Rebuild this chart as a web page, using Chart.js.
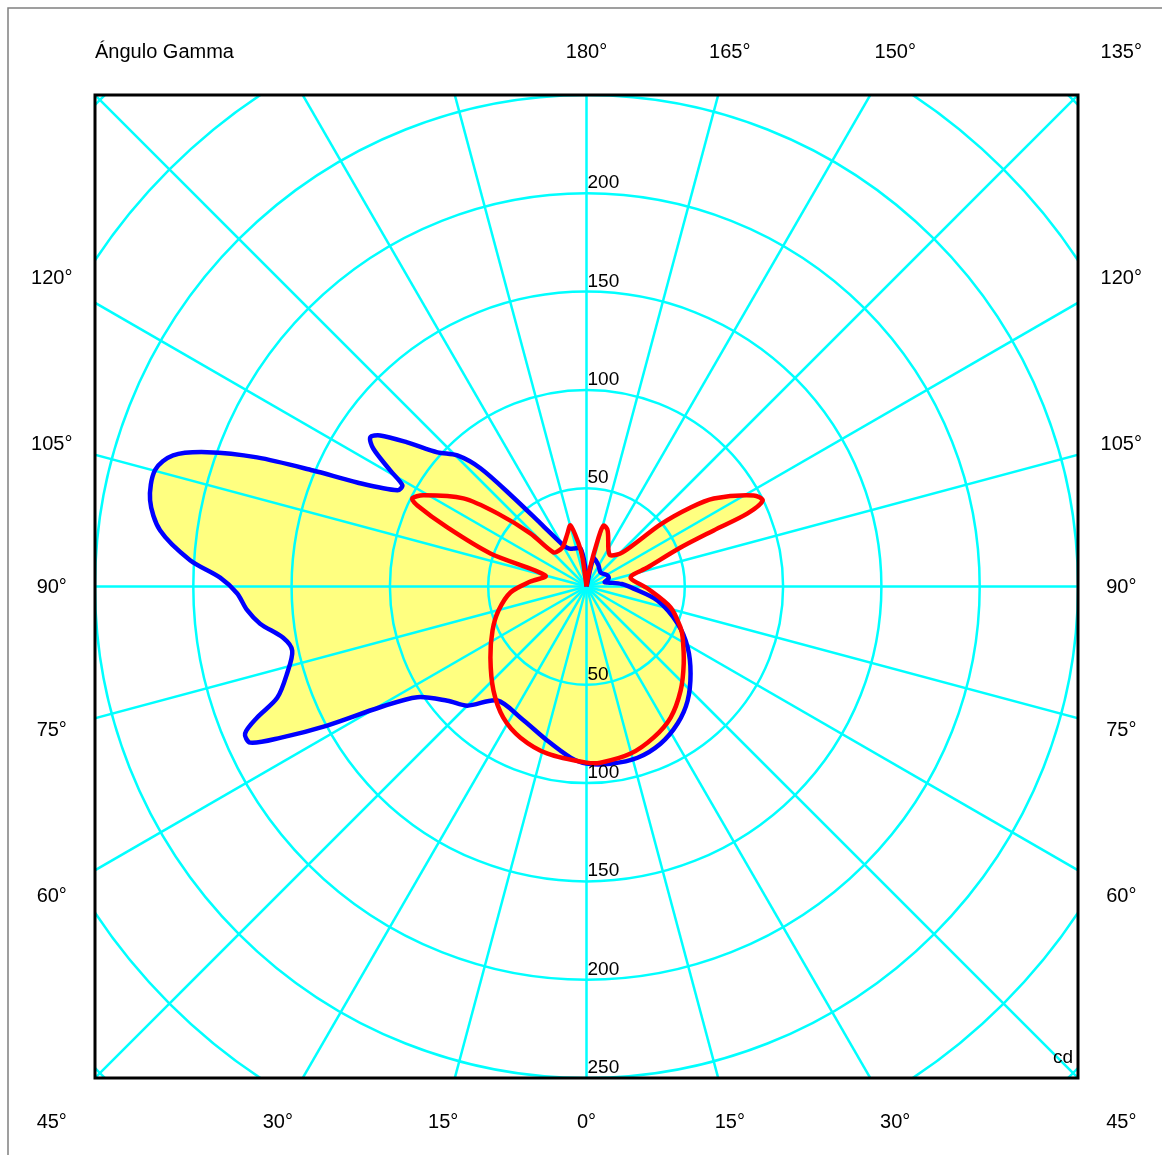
<!DOCTYPE html>
<html>
<head>
<meta charset="utf-8">
<script src="https://cdn.jsdelivr.net/npm/chart.js@4.4.1/dist/chart.umd.min.js"></script>
<style>
    body { margin: 0; background: #fff; }
    .chart-container { position: relative; width: 1162px; height: 1155px; }
</style>
</head>
<body>
<div class="chart-container">
    <canvas id="polarChart"></canvas>
</div>

<script>
    // gamma angles: negative = left half of the diagram, positive = right half (0 = down, 180 = up)
    const blueGamma = [-180, -176, -171, -161, -154.7, -150.7, -143.9, -140.6, -138.1, -135.4, -132, -128.8, -126.2, -124.6, -122.9, -120.6, -118.8, -117, -114.4, -113, -111.4, -109.5, -107.6, -105.1, -101.2, -97.5, -93.8, -91.4, -88.9, -86, -83.5, -80.4, -77.7, -73.8, -70.2, -68.3, -66.7, -65.1, -63.7, -61.8, -59.7, -56.8, -50.6, -45, -38, -26.7, -14.2, -5.3, 0, 7.7, 16.6, 25.2, 33.6, 41.5, 50.1, 58.9, 67.9, 78.8, 87.4, 94, 100.8, 104, 110, 117.6, 135, 150.3, 166, 180];
    const blueCd = [0, 10, 19.6, 20.4, 21.4, 23.9, 39.7, 58.6, 80.8, 93.6, 102, 117, 130.1, 133.6, 129.2, 116, 106.9, 107.9, 128.1, 151, 180, 204.7, 220.6, 227.3, 226.3, 218.8, 202.1, 186.4, 177.8, 173, 167.1, 156.5, 153.2, 158.6, 167.2, 180.3, 189.1, 188.6, 173.8, 149.7, 122, 102.8, 91.5, 85.7, 73.6, 74.7, 80.9, 87.4, 90.1, 91, 90.9, 88.4, 83.7, 77.6, 69, 60.1, 50, 36.8, 24, 18, 11, 9.5, 12, 12.1, 10.1, 12.3, 14.7, 0];

    const redGamma = [-180, -172, -169.5, -165.3, -160.3, -150.7, -145, -136, -133.4, -129.4, -125.6, -119.2, -116.8, -115.6, -113, -109, -105, -95, -85.5, -74.7, -64.9, -53.5, -41.8, -32.4, -23.6, -13.1, 0, 4.5, 14.8, 23.9, 32.7, 42.1, 51.6, 62, 66.4, 76, 88.1, 101.6, 107.3, 112.5, 113.8, 114.4, 116, 118.6, 124.7, 127.2, 130, 133.4, 142.3, 148.6, 159.4, 164.4, 166.2, 171, 180];
    const redCd = [0, 15, 22.3, 32.1, 28.7, 23.9, 23, 24.1, 39.3, 58.6, 77, 95.1, 99.3, 95.4, 76.9, 51.7, 21.6, 28.6, 38.8, 46.4, 52.8, 60.8, 71, 79, 83.9, 87.3, 89.6, 89.9, 87.9, 84.1, 79.2, 71.4, 63.1, 55.4, 52.2, 44.1, 31.1, 22.9, 32.5, 51.8, 70.7, 90, 99.7, 96.8, 78.7, 66.5, 49.2, 25.2, 20, 21.5, 30.5, 32.2, 25.7, 6.7, 0];

    const ringValues = [50, 100, 150, 200, 250, 300, 350];
    const spokeStep = 15;
    const upperTicks = [50, 100, 150, 200];
    const lowerTicks = [50, 100, 150, 200, 250];
    const leftAngleLabels = [45, 30, 15, 60, 75, 90, 105, 120];
    const rightAngleLabels = [0, 15, 30, 45, 60, 75, 90, 105, 120, 135, 150, 165, 180];
    const labelRing = 272;
    const maxCd = 250;

    function toXY(gammas, values) {
        return gammas.map((g, i) => {
            const rad = g * Math.PI / 180;
            return { x: values[i] * Math.sin(rad), y: -values[i] * Math.cos(rad) };
        });
    }

    const FONT = "'Liberation Sans', Arial, sans-serif";

    const polarGrid = {
        id: 'polarGrid',
        beforeDatasetsDraw(chart) {
            const { ctx, chartArea: a, scales: { x, y } } = chart;
            const cx = x.getPixelForValue(0), cy = y.getPixelForValue(0);
            const unit = x.getPixelForValue(1) - cx;
            ctx.save();
            ctx.beginPath();
            ctx.rect(a.left, a.top, a.width, a.height);
            ctx.clip();
            ctx.strokeStyle = '#00FFFF';
            ctx.lineWidth = 2.5;
            ringValues.forEach(r => {
                ctx.beginPath();
                ctx.arc(cx, cy, r * unit, 0, Math.PI * 2);
                ctx.stroke();
            });
            const far = 400 * unit;
            for (let g = 0; g < 360; g += spokeStep) {
                const rad = g * Math.PI / 180;
                ctx.beginPath();
                ctx.moveTo(cx, cy);
                ctx.lineTo(cx + far * Math.sin(rad), cy + far * Math.cos(rad));
                ctx.stroke();
            }
            ctx.restore();
        }
    };

    const frameAndLabels = {
        id: 'frameAndLabels',
        afterDraw(chart) {
            const { ctx, chartArea: a, scales: { x, y } } = chart;
            const cx = x.getPixelForValue(0), cy = y.getPixelForValue(0);
            ctx.save();

            // outer gray border
            ctx.strokeStyle = '#808080';
            ctx.lineWidth = 1.5;
            ctx.beginPath();
            ctx.moveTo(8, chart.height);
            ctx.lineTo(8, 8);
            ctx.lineTo(chart.width, 8);
            ctx.stroke();

            // plot frame
            ctx.strokeStyle = '#000';
            ctx.lineWidth = 3;
            ctx.strokeRect(a.left, a.top, a.width, a.height);

            ctx.fillStyle = '#000';
            ctx.font = '20px ' + FONT;
            ctx.textBaseline = 'middle';

            // gamma labels around the frame
            const placeLabel = (g, side) => {
                const rad = g * Math.PI / 180;
                const dx = side * Math.sin(rad), dy = -Math.cos(rad);
                const t = labelRing / Math.max(Math.abs(dx), Math.abs(dy));
                ctx.textAlign = 'center';
                ctx.fillText(g + '°', x.getPixelForValue(dx * t), y.getPixelForValue(dy * t) + 1);
            };
            leftAngleLabels.forEach(g => placeLabel(g, -1));
            rightAngleLabels.forEach(g => placeLabel(g, 1));

            // title
            ctx.textAlign = 'left';
            ctx.fillText('Ángulo Gamma', a.left, y.getPixelForValue(labelRing) + 1);

            // intensity labels along the vertical axis
            ctx.font = '19px ' + FONT;
            ctx.textBaseline = 'alphabetic';
            upperTicks.forEach(v => ctx.fillText(String(v), cx + 1, y.getPixelForValue(v) - 5));
            lowerTicks.forEach(v => ctx.fillText(String(v), cx + 1, y.getPixelForValue(-v) - 5));

            ctx.textAlign = 'right';
            ctx.textBaseline = 'middle';
            ctx.fillText('cd', a.right - 5, a.bottom - 20);
            ctx.restore();
        }
    };

    const ctx = document.getElementById('polarChart').getContext('2d');
    new Chart(ctx, {
        type: 'scatter',
        data: {
            datasets: [
                {
                    label: 'C0 - C180',
                    data: toXY(redGamma, redCd),
                    showLine: true,
                    borderColor: '#FF0000',
                    backgroundColor: '#FFFF80',
                    borderWidth: 4.5,
                    fill: 'shape',
                    tension: 0.3,
                    pointRadius: 0,
                    pointHoverRadius: 0
                },
                {
                    label: 'C90 - C270',
                    data: toXY(blueGamma, blueCd),
                    showLine: true,
                    borderColor: '#0000FF',
                    backgroundColor: '#FFFF80',
                    borderWidth: 4.5,
                    fill: 'shape',
                    tension: 0.3,
                    pointRadius: 0,
                    pointHoverRadius: 0
                }
            ]
        },
        options: {
            responsive: true,
            maintainAspectRatio: false,
            animation: false,
            layout: { padding: { left: 95, right: 84, top: 95, bottom: 77 } },
            scales: {
                x: { type: 'linear', min: -maxCd, max: maxCd, display: false },
                y: { type: 'linear', min: -maxCd, max: maxCd, display: false }
            },
            plugins: {
                legend: { display: false },
                tooltip: { enabled: false },
                filler: { drawTime: 'beforeDraw' }
            }
        },
        plugins: [polarGrid, frameAndLabels]
    });
</script>
</body>
</html>
